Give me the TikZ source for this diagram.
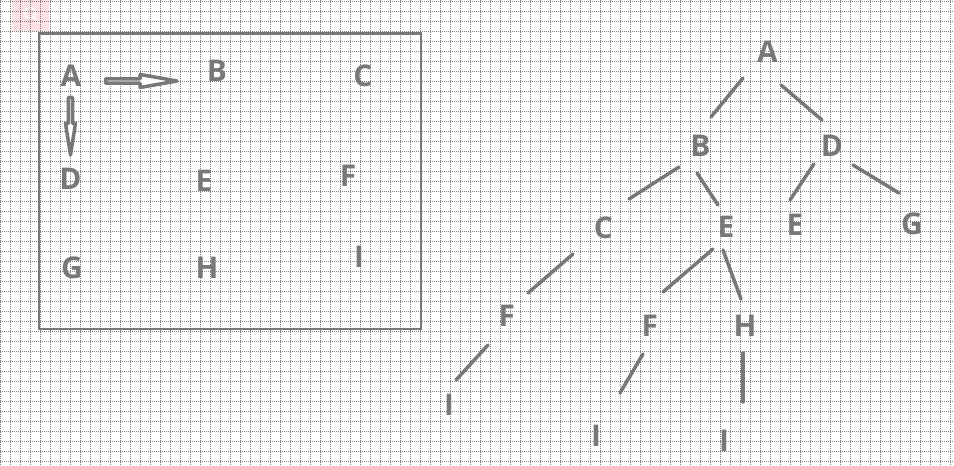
\documentclass[tikz,border=0pt]{standalone}
\usepackage{fontspec}
\setmainfont{Open Sans}
\usepackage{xcolor}
\usepackage{tikz}
\usetikzlibrary{shapes.arrows}
\definecolor{inkgray}{RGB}{120,120,120}
\definecolor{dotgray}{RGB}{125,125,125}
\definecolor{iconpink}{RGB}{252,226,228}

\begin{document}
\begin{tikzpicture}[x=1bp, y=-1bp,
  letter/.style={text=inkgray, font=\fontsize{30}{30}\selectfont\bfseries, inner sep=0pt},
  branch/.style={draw=inkgray, line width=3.5bp, line cap=round},
  gridline/.style={dotgray, line width=1bp, dash pattern=on 1bp off 1bp},
  blockarrow/.style={single arrow, draw=inkgray, fill=white, line width=3.5bp, line join=round, inner sep=0pt, anchor=tail, minimum width=13bp, single arrow head extend=3.5bp, single arrow tip angle=20}]
\useasboundingbox (0,0) rectangle (954,466);
% grid paper
\fill[iconpink] (12,0) rectangle (49,31);
\draw[white, line width=1.5bp] (30,13) circle (5.5) (34,17) -- (38,23);
\foreach \gx in {0.5,10.5,...,950.5} \draw[gridline] (\gx,0) -- (\gx,466);
\foreach \gy in {1.5,11.5,...,461.5} \draw[gridline] (0,\gy) -- (954,\gy);

% left: the 3x3 box
\draw[inkgray, line width=2.5bp] (39.2,33.5) rectangle (421,329);
\node[letter] at (71,75.5) (ma) {A};
\node[letter] at (217,70.5) (mb) {B};
\node[letter] at (363,75.5) (mc) {C};
\node[letter] at (70.5,178.5) (md) {D};
\node[letter] at (204,180.5) (me) {E};
\node[letter] at (348,176) (mf) {F};
\node[letter] at (72,268) (mg) {G};
\node[letter] at (207,267.5) (mh) {H};
\node[letter] at (359,257) (mi) {I};
\node[blockarrow, minimum height=71.5bp] at (103.75,81) (toright) {};
\node[blockarrow, minimum height=57.5bp, minimum width=10bp, single arrow head extend=2.5bp, single arrow tip angle=18, shape border rotate=270] at (70.5,95.75) (todown) {};

% right: the tree
\node[letter] at (767.5,52) (ta) {A};
\node[letter] at (700.5,146.3) (tb) {B};
\node[letter] at (832,146.3) (td) {D};
\node[letter] at (603.3,227.7) (tc) {C};
\node[letter] at (726,227) (te1) {E};
\node[letter] at (795,224.7) (te2) {E};
\node[letter] at (912,223.5) (tg) {G};
\node[letter] at (506.7,316.3) (tf1) {F};
\node[letter] at (649.7,326.3) (tf2) {F};
\node[letter] at (745,326.3) (th) {H};
\node[letter] at (449,405.3) (ti1) {I};
\node[letter] at (596,436) (ti2) {I};
\node[letter] at (724,441) (ti3) {I};
\draw[branch] ([shift={(-24.5,26)}]ta.center) -- ([shift={(10.5,-29.3)}]tb.center);
\draw[branch] ([shift={(13.5,33)}]ta.center) -- ([shift={(-10,-26.3)}]td.center);
\draw[branch] ([shift={(-21.5,20.7)}]tb.center) -- ([shift={(25.7,-28.7)}]tc.center);
\draw[branch] ([shift={(-3.5,26.7)}]tb.center) -- ([shift={(-8,-22)}]te1.center);
\draw[branch] ([shift={(-18,17.7)}]td.center) -- ([shift={(-5,-24.7)}]te2.center);
\draw[branch] ([shift={(21,18.7)}]td.center) -- ([shift={(-13,-30.5)}]tg.center);
\draw[branch] ([shift={(-30.3,26.3)}]tc.center) -- ([shift={(21.3,-23.3)}]tf1.center);
\draw[branch] ([shift={(-13,22)}]te1.center) -- ([shift={(13.3,-34.3)}]tf2.center);
\draw[branch] ([shift={(-3,23)}]te1.center) -- ([shift={(-4,-27.3)}]th.center);
\draw[branch] ([shift={(-18.7,28.7)}]tf1.center) -- ([shift={(7,-25.3)}]ti1.center);
\draw[branch] ([shift={(-6.7,27.7)}]tf2.center) -- ([shift={(24,-43)}]ti2.center);
\draw[branch] ([shift={(-2,26.7)}]th.center) -- ([shift={(19,-39)}]ti3.center);
\end{tikzpicture}
\end{document}
